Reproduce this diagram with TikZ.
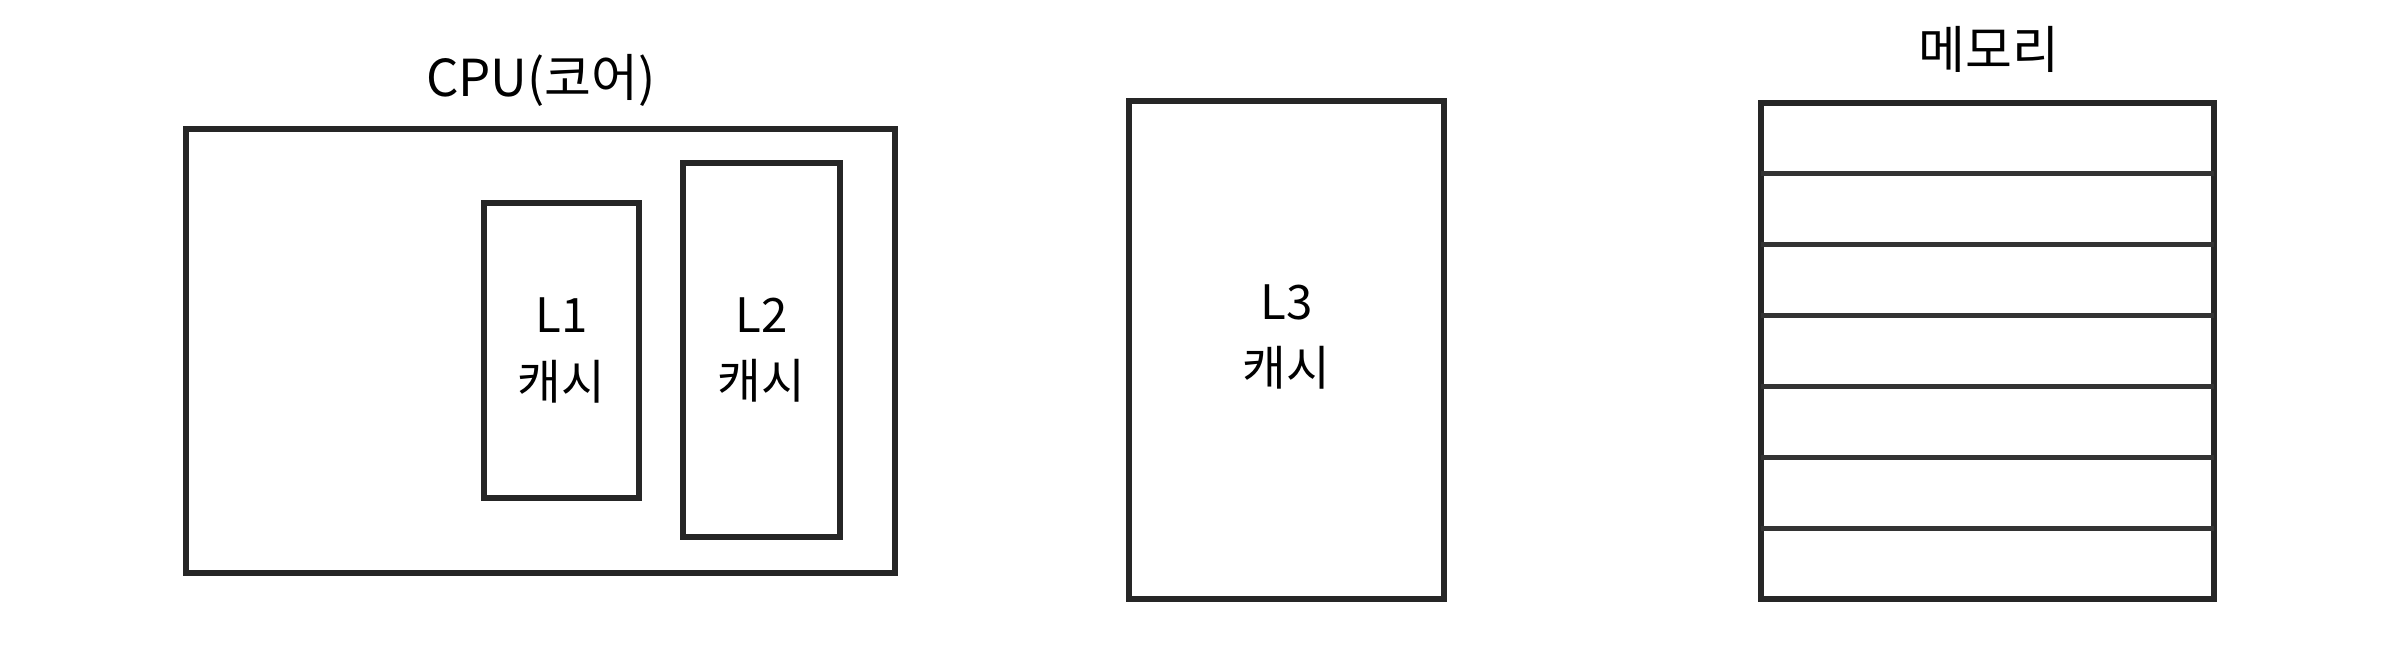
\documentclass[tikz,border=0pt]{standalone}
\usepackage{fontspec}
\setmainfont{Noto Sans CJK KR}
\usepackage{tikz}
\usetikzlibrary{calc,positioning}
\tikzset{
  box/.style={draw=black!85, line width=1.6pt, inner sep=0pt, outer sep=0pt,
    align=center, font=\fontsize{13.5}{19}\selectfont},
  title/.style={font=\fontsize{14.5}{17}\selectfont}
}
\begin{document}
\begin{tikzpicture}
  \useasboundingbox (0,0) rectangle (24.08,6.66);
  % CPU core with L1 and L2
  \node[box, minimum width=7.09cm, minimum height=4.44cm] (cpu) at (5.405,3.15) {};
  \node[title] (cpulabel) at (5.41,5.86) {CPU(코어)};
  \node[box, minimum width=1.55cm, minimum height=2.95cm] (l1) at (5.615,3.155) {L1\\캐시};
  \node[box, minimum width=1.57cm, minimum height=3.74cm] (l2) at (7.615,3.16) {L2\\캐시};
  % L3
  \node[box, minimum width=3.15cm, minimum height=4.98cm] (l3) at (12.865,3.16) {};
  \node[box, draw=none] (l3text) at ($(l3.center)+(0,0.13)$) {L3\\캐시};
  % memory
  \node[box, minimum width=4.53cm, minimum height=4.96cm] (mem) at (19.875,3.15) {};
  \node[title] (memlabel) at (19.89,6.17) {메모리};
  \foreach \i in {1,...,6}
    \draw[line width=1.4pt, black!80]
      ($(mem.north west)!\i/7!(mem.south west)$) -- ($(mem.north east)!\i/7!(mem.south east)$);
\end{tikzpicture}
\end{document}
